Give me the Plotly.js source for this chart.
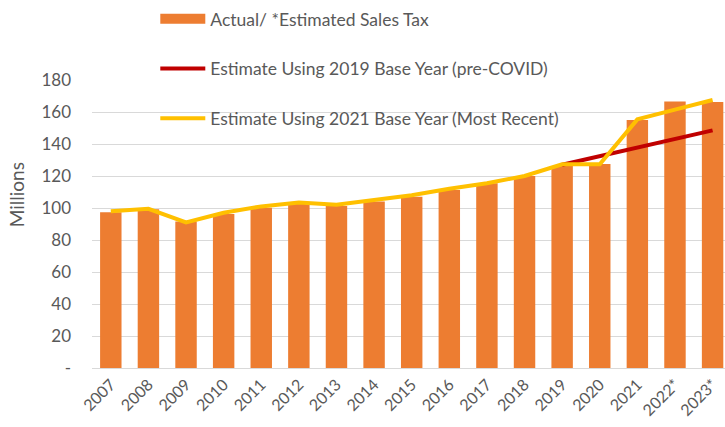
<!DOCTYPE html>
<html>
<head>
<meta charset="utf-8">
<script src="https://cdn.plot.ly/plotly-3.0.1.min.js"></script>
<style>html,body{margin:0;padding:0;background:#fff;}#chart{width:725px;height:427px;}</style>
</head>
<body>
<div id="chart"></div>
<script>
var years = ["2007","2008","2009","2010","2011","2012","2013","2014","2015","2016","2017","2018","2019","2020","2021","2022*","2023*"];
var salesTax = [97.3, 99.2, 91.5, 96.2, 100.2, 102.9, 101.2, 104, 107.1, 111.2, 115.4, 120, 126.2, 127.5, 155, 166.5, 166.3];
var est2021 = [98, 99.5, 91, 97, 101, 103.5, 102, 105, 108, 112, 115.5, 120, 127.3, 127.3, 155.4, 161.5, 167.5];
var years2019 = ["2019","2020","2021","2022*","2023*"];
var est2019 = [127, 132.5, 137.5, 143, 148.5];
var yTickVals = [0,20,40,60,80,100,120,140,160,180];
var yTickText = ["-","20","40","60","80","100","120","140","160","180"];

var traces = [
  {type:"bar", x:years, y:salesTax, name:"Actual/ *Estimated Sales Tax", marker:{color:"#ED7D31"}, showlegend:false, legendgroup:"a"},
  {type:"scatter", mode:"lines", x:[null], y:[null], name:"Actual/ *Estimated Sales Tax", line:{color:"#ED7D31", width:10}, legendgroup:"a", showlegend:true},
  {type:"scatter", mode:"lines", x:years2019, y:est2019, name:"Estimate Using 2019 Base Year (pre-COVID)", line:{color:"#C00000", width:4}, legendgroup:"b"},
  {type:"scatter", mode:"lines", x:years, y:est2021, name:"Estimate Using 2021 Base Year (Most Recent)", line:{color:"#FFC000", width:4}, legendgroup:"c"}
];
var layout = {
  width:725, height:427,
  margin:{l:92, r:0, t:80, b:59},
  paper_bgcolor:"#fff", plot_bgcolor:"#fff",
  font:{family:"Lato, 'Liberation Sans', sans-serif", color:"#595959", size:16},
  bargap:0.43,
  showlegend:true,
  legend:{x:0.1, xanchor:"left", y:1.275, yanchor:"top", orientation:"v", tracegroupgap:24, itemwidth:45, font:{size:17.5, color:"#595959"}, bgcolor:"rgba(0,0,0,0)"},
  xaxis:{type:"category", categoryorder:"array", categoryarray:years, range:[-0.5,16.33], tickangle:-45, tickfont:{size:16}, showgrid:false, showline:true, linecolor:"#d9d9d9", ticks:""},
  yaxis:{range:[0,180], tickvals:yTickVals, ticktext:yTickText, showgrid:true, gridcolor:"#d9d9d9", gridwidth:1, zeroline:false, showline:false, ticklabelstandoff:20, tickfont:{size:17}},
  annotations:[{text:"Millions", textangle:-90, xref:"paper", yref:"paper", x:-0.12, y:0.6, xanchor:"center", yanchor:"middle", showarrow:false, font:{size:19, color:"#595959"}}]
};
Plotly.newPlot("chart", traces, layout, {displayModeBar:false, staticPlot:true});
</script>
</body>
</html>
